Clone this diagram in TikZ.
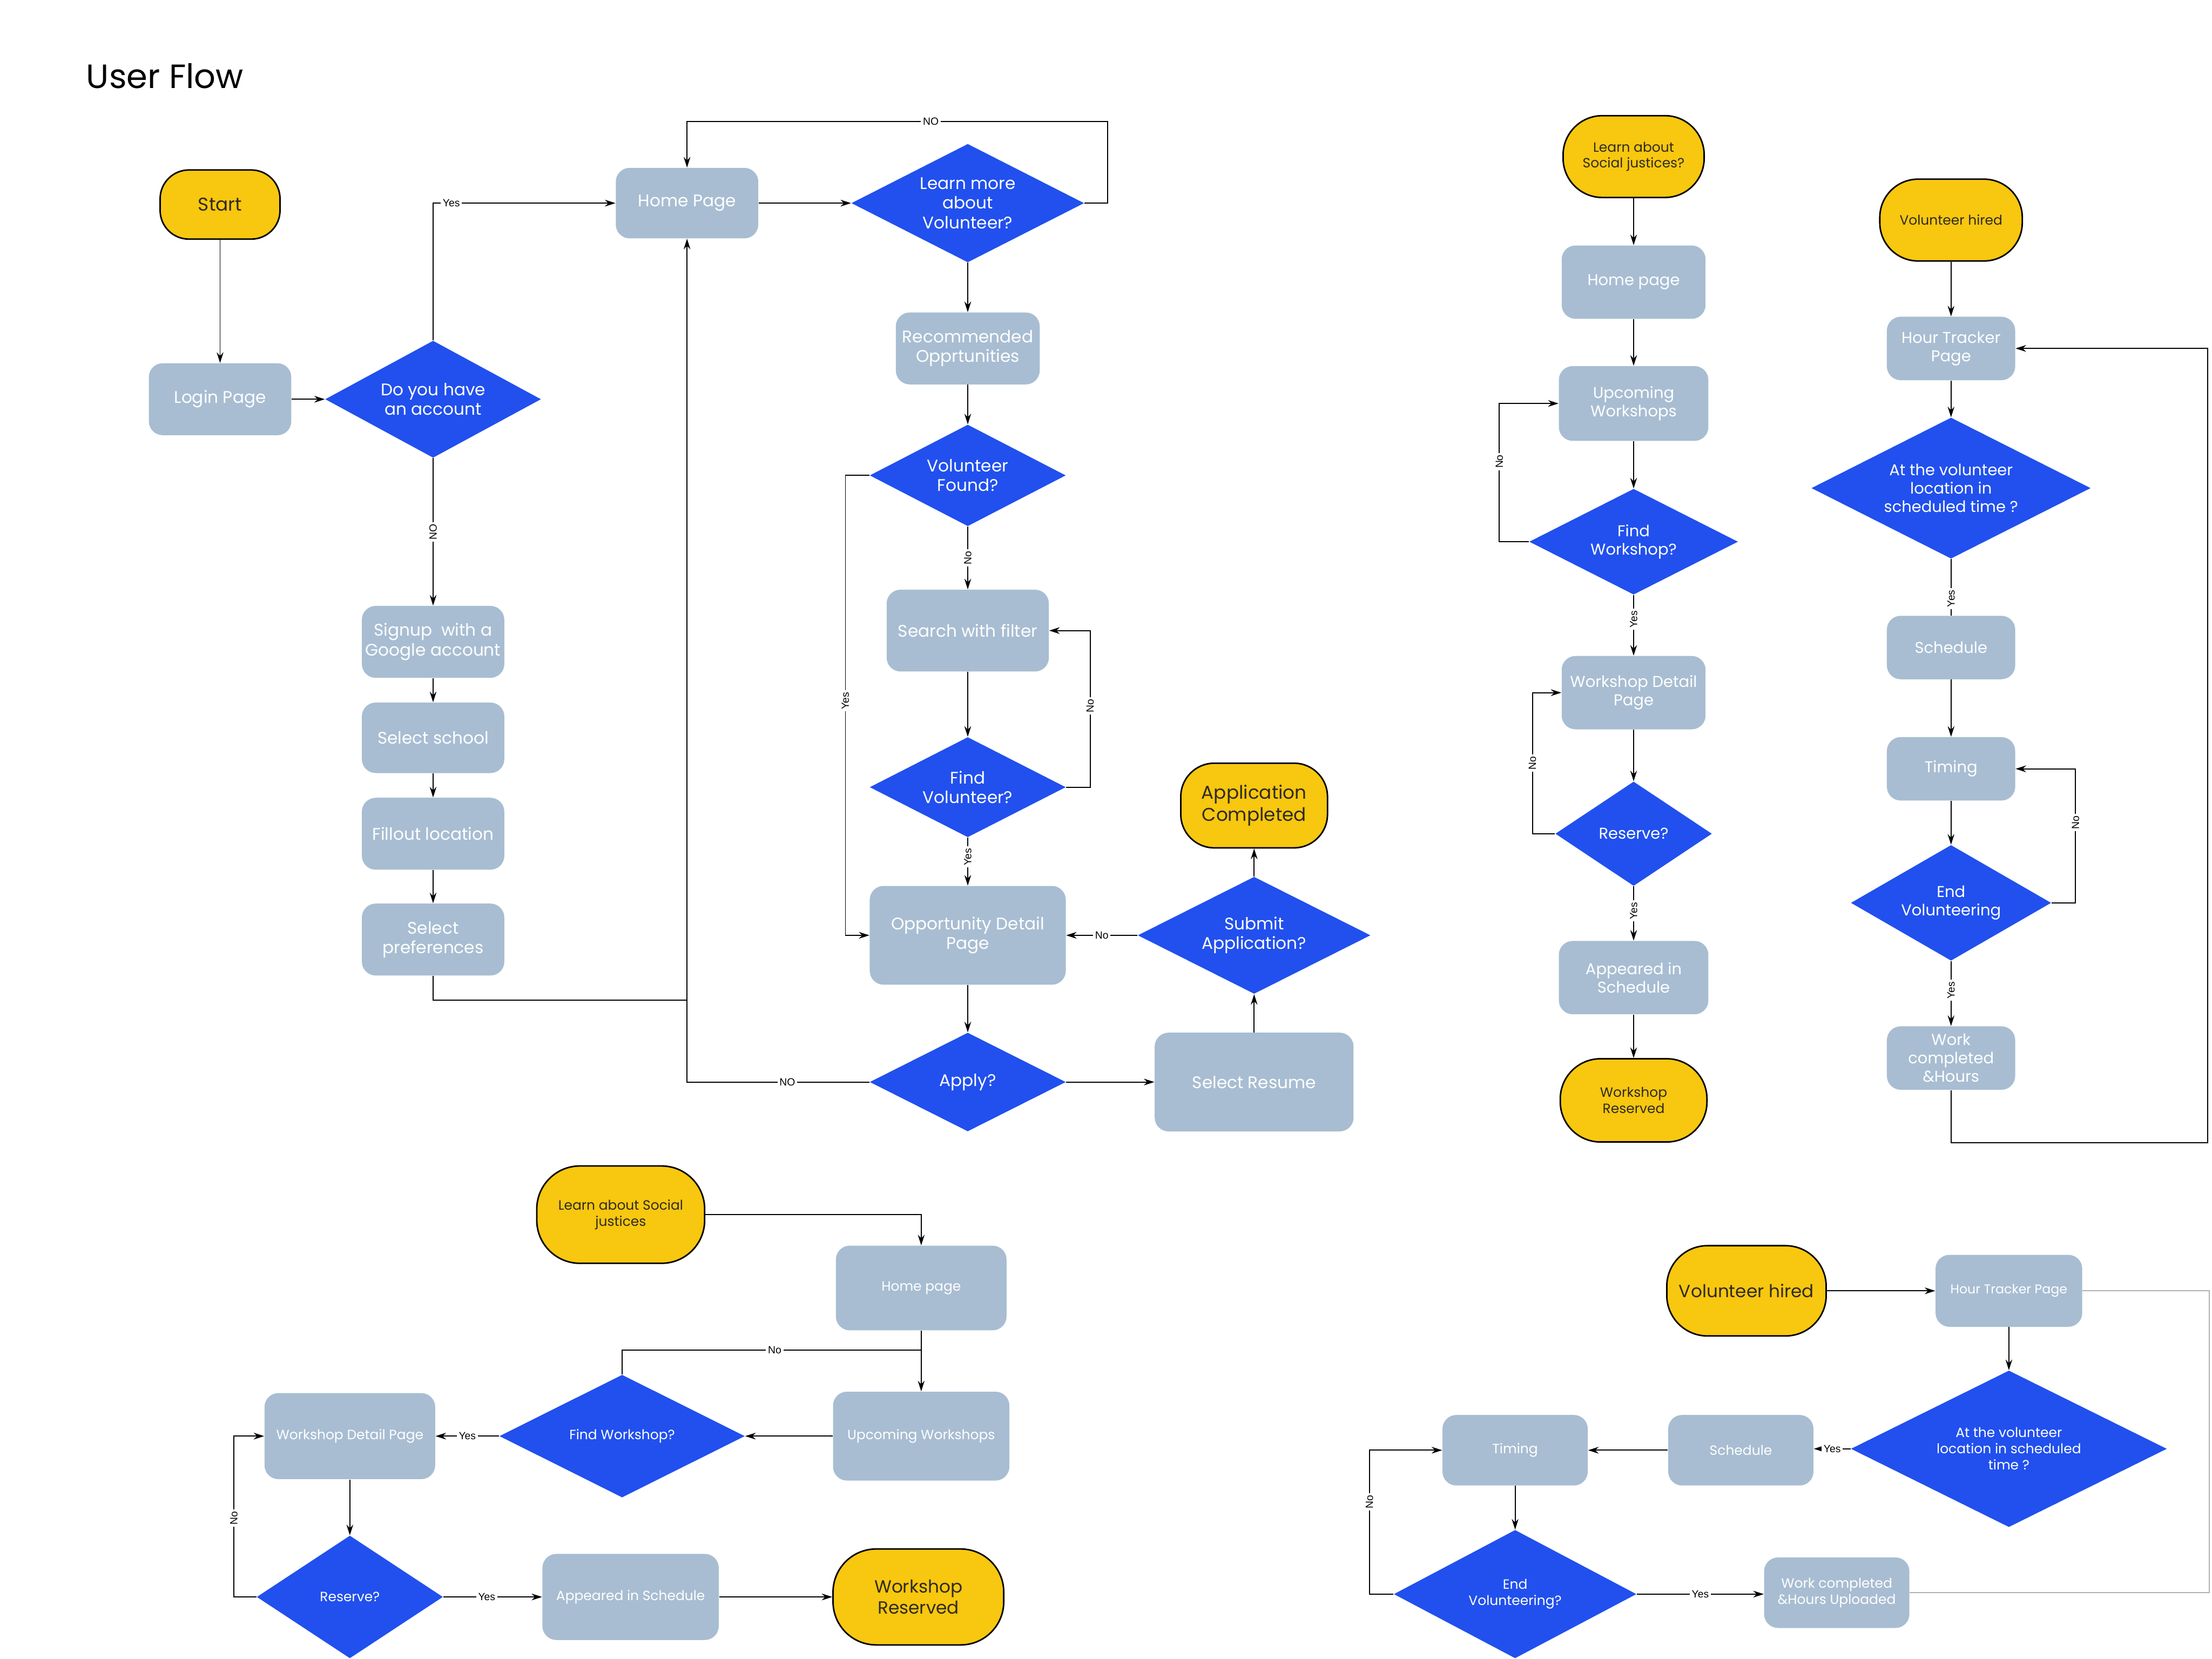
\documentclass[tikz,border=0pt]{standalone}
\usepackage{fontspec}
\setmainfont{Poppins}
\newfontfamily\lblfont{Liberation Sans}
\usetikzlibrary{shapes.geometric,arrows.meta}
\definecolor{gbox}{HTML}{A8BDD2}
\definecolor{bdia}{HTML}{2150EE}
\definecolor{yterm}{HTML}{F8C70F}
\definecolor{dtxt}{HTML}{2E2A22}
\definecolor{gline}{HTML}{B0B0B0}
\newcommand\pxu{0.29452mm}
\newcommand\fsT{\fontsize{20}{24}\selectfont}
\newcommand\fsA{\fontsize{10}{11.7}\selectfont}
\newcommand\fsAb{\fontsize{11}{13}\selectfont}
\newcommand\fsB{\fontsize{9.3}{10.9}\selectfont}
\newcommand\fsBs{\fontsize{8}{9.5}\selectfont}
\newcommand\fsC{\fontsize{8}{9.6}\selectfont}
\newcommand\fsCs{\fontsize{7.6}{9}\selectfont}
\newcommand\fsCb{\fontsize{10.5}{12.5}\selectfont}
\newcommand\fsL{\lblfont\fontsize{6.2}{7}\selectfont}
\begin{document}
\begin{tikzpicture}[x=0.29452mm,y=-0.29452mm,
  sz/.style 2 args={minimum width=#1*\pxu, minimum height=#2*\pxu},
  pg/.style={rectangle, rounded corners=2.9mm, fill=gbox, draw=none, text=white, align=center, inner sep=0pt},
  term/.style={rectangle, fill=yterm, draw=black, line width=0.9pt, text=dtxt, align=center, inner sep=0pt},
  dia/.style={diamond, fill=bdia, draw=none, inner sep=0pt},
  dtext/.style={text=white, align=center, inner sep=0pt},
  conn/.style={draw=black, line width=0.6pt},
  arr/.style={conn, -{Stealth[length=2.2mm,width=1.4mm]}},
  lab/.style={fill=white, inner sep=1.2pt, font=\fsL, text=black},
  grayline/.style={draw=gline, line width=0.5pt}
]
\useasboundingbox (0,0) rectangle (1568,1176);

% title
\node[anchor=west, font=\fsT, text=black, inner sep=0pt] (title) at (61,54) {User Flow};

% ---------------- Diagram 1 ----------------
\node[term, rounded corners=6mm, sz={85}{49}, font=\fsAb] (start) at (156,145) {Start};
\node[pg, sz={101}{51}, font=\fsA] (login) at (156,283) {Login Page};
\node[dia, sz={153}{83}, label={[dtext,font=\fsA]center:{Do you have\\an account}}] (acct) at (307,283) {};
\node[pg, sz={101}{51}, font=\fsA] (signup) at (307,455) {Signup\ \ with a\\Google account};
\node[pg, sz={101}{50}, font=\fsA] (school) at (307,523) {Select school};
\node[pg, sz={101}{51}, font=\fsA] (loc) at (307,591) {Fillout location};
\node[pg, sz={101}{51}, font=\fsA] (pref) at (307,666) {Select\\preferences};
\node[pg, sz={101}{50}, font=\fsA] (home) at (487,144) {Home Page};
\node[dia, sz={165}{84}, label={[dtext,font=\fsA]center:{Learn more\\about\\Volunteer?}}] (learn) at (686,144) {};
\node[pg, sz={102}{51}, font=\fsA] (rec) at (686,247) {Recommended\\Opprtunities};
\node[dia, sz={139}{72}, label={[dtext,font=\fsA]center:{Volunteer\\Found?}}] (vfound) at (686,337) {};
\node[pg, sz={115}{58}, font=\fsA] (search) at (686,447) {Search with filter};
\node[dia, sz={139}{71}, label={[dtext,font=\fsA]center:{Find\\Volunteer?}}] (findv) at (686,558) {};
\node[pg, sz={139}{70}, font=\fsA] (opp) at (686,663) {Opportunity Detail\\Page};
\node[dia, sz={139}{70}, label={[dtext,font=\fsA]center:{Apply?}}] (apply) at (686,767) {};
\node[pg, sz={141}{70}, font=\fsA] (resume) at (889,767) {Select Resume};
\node[dia, sz={165}{83}, label={[dtext,font=\fsA]center:{Submit\\Application?}}] (submit) at (889,663) {};
\node[term, rounded corners=7mm, sz={104}{60}, font=\fsAb] (done) at (889,571) {Application\\Completed};

\coordinate (j1) at (487,709);
\coordinate (nA) at (785,86);
\draw[arr] (start) -- (login);
\draw[arr] (login) -- (acct);
\draw[arr] (acct.north) |- node[lab,pos=0.55]{Yes} (home.west);
\draw[arr] (acct.south) -- node[lab,rotate=90]{NO} (signup.north);
\draw[arr] (signup) -- (school);
\draw[arr] (school) -- (loc);
\draw[arr] (loc) -- (pref);
\draw[conn] (pref.south) |- (j1);
\draw[arr] (apply.west) -- node[lab,pos=0.45]{NO} (apply.west -| home.south) -- (home.south);
\draw[arr] (home) -- (learn);
\draw[arr] (learn.east) -| (nA) -| node[lab,pos=0.21]{NO} (home.north);
\draw[arr] (learn) -- (rec);
\draw[arr] (rec) -- (vfound);
\draw[arr] (vfound.west) -- ++(-17,0) |- node[lab,rotate=90,pos=0.245]{Yes} (opp.west);
\draw[arr] (vfound) -- node[lab,rotate=90]{No} (search);
\draw[arr] (search) -- (findv);
\draw[arr] (findv.east) -- ++(17,0) |- node[lab,rotate=90,pos=0.26]{No} (search.east);
\draw[arr] (findv) -- node[lab,rotate=90,pos=0.4]{Yes} (opp);
\draw[arr] (opp) -- (apply);
\draw[arr] (apply) -- (resume);
\draw[arr] (resume) -- (submit);
\draw[arr] (submit) -- node[lab]{No} (opp);
\draw[arr] (submit) -- (done);

% ---------------- Diagram 2 ----------------
\node[term, rounded corners=8.2mm, sz={100}{58}, font=\fsBs] (ls2) at (1158,111) {Learn about\\Social justices?};
\node[pg, sz={102}{52}, font=\fsB] (home2) at (1158,200) {Home page};
\node[pg, sz={106}{53}, font=\fsB] (up2) at (1158,286) {Upcoming\\Workshops};
\node[dia, sz={148}{75}, label={[dtext,font=\fsB]center:{Find\\Workshop?}}] (fw2) at (1158,384) {};
\node[pg, sz={102}{52}, font=\fsB] (wd2) at (1158,491) {Workshop Detail\\Page};
\node[dia, sz={111}{74}, label={[dtext,font=\fsB]center:{Reserve?}}] (rs2) at (1158,591) {};
\node[pg, sz={106}{52}, font=\fsB] (ap2) at (1158,693) {Appeared in\\Schedule};
\node[term, rounded corners=8.4mm, sz={104}{59}, font=\fsBs] (wr2) at (1158,780) {Workshop\\Reserved};

\draw[arr] (ls2) -- (home2);
\draw[arr] (home2) -- (up2);
\draw[arr] (up2) -- (fw2);
\draw[arr] (fw2.west) -- ++(-21,0) |- node[lab,rotate=90,pos=0.29]{No} (up2.west);
\draw[arr] (fw2) -- node[lab,rotate=90,pos=0.4]{Yes} (wd2);
\draw[arr] (wd2) -- (rs2);
\draw[arr] (rs2.west) -- ++(-16,0) |- node[lab,rotate=90,pos=0.25]{No} (wd2.west);
\draw[arr] (rs2) -- node[lab,rotate=90,pos=0.45]{Yes} (ap2);
\draw[arr] (ap2) -- (wr2);

% ---------------- Diagram 3 ----------------
\node[term, rounded corners=8mm, sz={101}{58}, font=\fsBs] (vh3) at (1383,156) {Volunteer hired};
\node[pg, sz={91}{45}, font=\fsB] (ht3) at (1383,247) {Hour Tracker\\Page};
\node[dia, sz={198}{100}, label={[dtext,font=\fsB]center:{At the volunteer\\location in\\scheduled time ?}}] (at3) at (1383,346) {};
\node[pg, sz={91}{45}, font=\fsB] (sc3) at (1383,459) {Schedule};
\node[pg, sz={91}{45}, font=\fsB] (tm3) at (1383,545) {Timing};
\node[dia, sz={142}{82}, label={[dtext,font=\fsB]center:{End\\Volunteering}}] (ev3) at (1383,640) {};
\node[pg, sz={91}{45}, font=\fsB] (wc3) at (1383,750) {Work\\completed\\\&Hours};
\coordinate (r3) at (1565,810);

\draw[arr] (vh3) -- (ht3);
\draw[arr] (ht3) -- (at3);
\draw[conn] (at3) -- node[lab,rotate=90,pos=0.7]{Yes} (sc3);
\draw[arr] (sc3) -- (tm3);
\draw[arr] (tm3) -- (ev3);
\draw[arr] (ev3.east) -- ++(17,0) |- node[lab,rotate=90,pos=0.3]{No} (tm3.east);
\draw[arr] (ev3) -- node[lab,rotate=90,pos=0.45]{Yes} (wc3);
\draw[arr] (wc3.south) |- (r3) |- (ht3.east);

% ---------------- Diagram 4 ----------------
\node[term, rounded corners=9mm, sz={119}{69}, font=\fsC] (ls4) at (440,861) {Learn about Social\\justices};
\node[pg, sz={121}{60}, font=\fsC] (home4) at (653,913) {Home page};
\node[pg, sz={125}{63}, font=\fsC] (up4) at (653,1018) {Upcoming Workshops};
\node[dia, sz={174}{87}, label={[dtext,font=\fsC]center:{Find Workshop?}}] (fw4) at (441,1018) {};
\node[pg, sz={121}{61}, font=\fsC] (wd4) at (248,1018) {Workshop Detail Page};
\node[dia, sz={132}{87}, label={[dtext,font=\fsC]center:{Reserve?}}] (rs4) at (248,1132) {};
\node[pg, sz={125}{61}, font=\fsC] (ap4) at (447,1132) {Appeared in Schedule};
\node[term, rounded corners=9mm, sz={121}{68}, font=\fsCb] (wr4) at (651,1132) {Workshop\\Reserved};
\coordinate (j4) at (653,957);

\draw[arr] (ls4.east) -| (home4.north);
\draw[arr] (home4) -- (up4);
\draw[conn] (fw4.north) |- node[lab,pos=0.755]{No} (j4);
\draw[arr] (up4) -- (fw4);
\draw[arr] (fw4) -- node[lab]{Yes} (wd4);
\draw[arr] (wd4) -- (rs4);
\draw[arr] (rs4.west) -- ++(-16,0) |- node[lab,rotate=90,pos=0.245]{No} (wd4.west);
\draw[arr] (rs4) -- node[lab,pos=0.44]{Yes} (ap4);
\draw[arr] (ap4) -- (wr4);

% ---------------- Diagram 5 ----------------
\node[term, rounded corners=8.5mm, sz={113}{64}, font=\fsCb] (vh5) at (1238,915) {Volunteer hired};
\node[pg, sz={104}{51}, font=\fsCs] (ht5) at (1424,915) {Hour Tracker Page};
\node[dia, sz={224}{111}, label={[dtext,font=\fsC]center:{At the volunteer\\location in scheduled\\time ?}}] (at5) at (1424,1027) {};
\node[pg, sz={103}{50}, font=\fsC] (sc5) at (1234,1028) {Schedule};
\node[pg, sz={103}{50}, font=\fsC] (tm5) at (1074,1028) {Timing};
\node[dia, sz={172}{91}, label={[dtext,font=\fsC]center:{End\\Volunteering?}}] (ev5) at (1074,1130) {};
\node[pg, sz={103}{50}, font=\fsC] (wc5) at (1302,1129) {Work completed\\\&Hours Uploaded};
\coordinate (g5) at (1566,915);

\draw[arr] (vh5) -- (ht5);
\draw[arr] (ht5) -- (at5);
\draw[arr] (at5.west) -- node[lab]{Yes} (at5.west -| sc5.east);
\draw[arr] (sc5) -- (tm5);
\draw[arr] (tm5) -- (ev5);
\draw[arr] (ev5.west) -- ++(-17,0) |- node[lab,rotate=90,pos=0.32]{No} (tm5.west);
\draw[arr] (ev5.east) -- node[lab]{Yes} (ev5.east -| wc5.west);
\draw[grayline] (ht5.east) -- (g5) |- (wc5.east);
\end{tikzpicture}
\end{document}
